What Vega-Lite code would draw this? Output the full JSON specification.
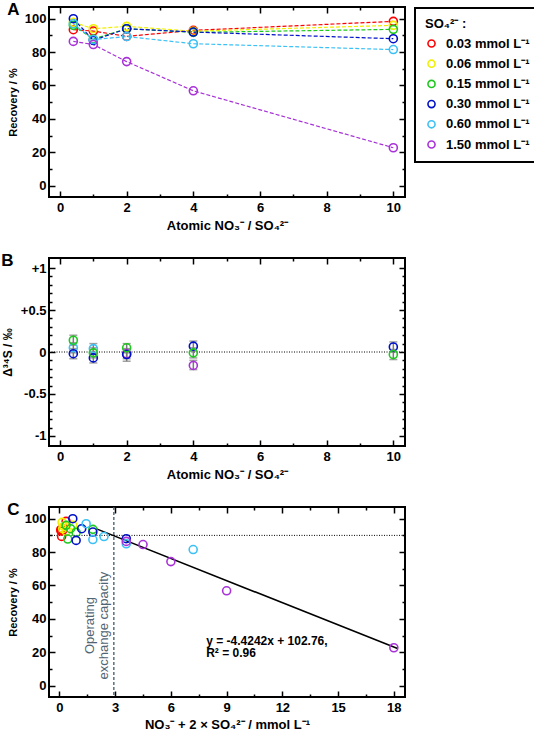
{
  "$schema": "https://vega.github.io/schema/vega-lite/v6.json",
  "background": "white",
  "padding": {"left": 0, "top": 0, "right": 2, "bottom": 0},
  "spacing": 18,
  "datasets": {
    "rec": [
      {"ratio": 0.4, "total": 0.072, "rec": 93.4, "conc": "0.03 mmol L⁻¹"},
      {"ratio": 1, "total": 0.09, "rec": 92.6, "conc": "0.03 mmol L⁻¹"},
      {"ratio": 2, "total": 0.12, "rec": 89.4, "conc": "0.03 mmol L⁻¹"},
      {"ratio": 4, "total": 0.18, "rec": 93.0, "conc": "0.03 mmol L⁻¹"},
      {"ratio": 10, "total": 0.36, "rec": 98.4, "conc": "0.03 mmol L⁻¹"},
      {"ratio": 0.4, "total": 0.144, "rec": 97.8, "conc": "0.06 mmol L⁻¹"},
      {"ratio": 1, "total": 0.18, "rec": 94.0, "conc": "0.06 mmol L⁻¹"},
      {"ratio": 2, "total": 0.24, "rec": 95.4, "conc": "0.06 mmol L⁻¹"},
      {"ratio": 4, "total": 0.36, "rec": 92.5, "conc": "0.06 mmol L⁻¹"},
      {"ratio": 10, "total": 0.72, "rec": 96.0, "conc": "0.06 mmol L⁻¹"},
      {"ratio": 0.4, "total": 0.36, "rec": 96.0, "conc": "0.15 mmol L⁻¹"},
      {"ratio": 1, "total": 0.45, "rec": 87.8, "conc": "0.15 mmol L⁻¹"},
      {"ratio": 2, "total": 0.6, "rec": 94.0, "conc": "0.15 mmol L⁻¹"},
      {"ratio": 4, "total": 0.9, "rec": 91.8, "conc": "0.15 mmol L⁻¹"},
      {"ratio": 10, "total": 1.8, "rec": 93.6, "conc": "0.15 mmol L⁻¹"},
      {"ratio": 0.4, "total": 0.72, "rec": 100.0, "conc": "0.30 mmol L⁻¹"},
      {"ratio": 1, "total": 0.9, "rec": 87.0, "conc": "0.30 mmol L⁻¹"},
      {"ratio": 2, "total": 1.2, "rec": 94.0, "conc": "0.30 mmol L⁻¹"},
      {"ratio": 4, "total": 1.8, "rec": 92.0, "conc": "0.30 mmol L⁻¹"},
      {"ratio": 10, "total": 3.6, "rec": 88.0, "conc": "0.30 mmol L⁻¹"},
      {"ratio": 0.4, "total": 1.44, "rec": 97.0, "conc": "0.60 mmol L⁻¹"},
      {"ratio": 1, "total": 1.8, "rec": 87.5, "conc": "0.60 mmol L⁻¹"},
      {"ratio": 2, "total": 2.4, "rec": 89.3, "conc": "0.60 mmol L⁻¹"},
      {"ratio": 4, "total": 3.6, "rec": 85.0, "conc": "0.60 mmol L⁻¹"},
      {"ratio": 10, "total": 7.2, "rec": 81.5, "conc": "0.60 mmol L⁻¹"},
      {"ratio": 0.4, "total": 3.6, "rec": 86.4, "conc": "1.50 mmol L⁻¹"},
      {"ratio": 1, "total": 4.5, "rec": 84.5, "conc": "1.50 mmol L⁻¹"},
      {"ratio": 2, "total": 6.0, "rec": 74.3, "conc": "1.50 mmol L⁻¹"},
      {"ratio": 4, "total": 9.0, "rec": 56.8, "conc": "1.50 mmol L⁻¹"},
      {"ratio": 10, "total": 18.0, "rec": 22.7, "conc": "1.50 mmol L⁻¹"}
    ],
    "iso": [
      {"ratio": 0.4, "d": 0.05, "lo": -0.01, "hi": 0.11, "conc": "0.60 mmol L⁻¹"},
      {"ratio": 0.4, "d": -0.02, "lo": -0.08, "hi": 0.04, "conc": "0.30 mmol L⁻¹"},
      {"ratio": 0.4, "d": 0.14, "lo": 0.08, "hi": 0.2, "conc": "0.15 mmol L⁻¹"},
      {"ratio": 1, "d": 0.04, "lo": -0.02, "hi": 0.1, "conc": "0.60 mmol L⁻¹"},
      {"ratio": 1, "d": -0.07, "lo": -0.13, "hi": -0.01, "conc": "0.30 mmol L⁻¹"},
      {"ratio": 1, "d": -0.01, "lo": -0.07, "hi": 0.05, "conc": "0.15 mmol L⁻¹"},
      {"ratio": 2, "d": -0.02, "lo": -0.08, "hi": 0.04, "conc": "1.50 mmol L⁻¹"},
      {"ratio": 2, "d": -0.03, "lo": -0.11, "hi": 0.03, "conc": "0.30 mmol L⁻¹"},
      {"ratio": 2, "d": 0.05, "lo": -0.01, "hi": 0.1, "conc": "0.15 mmol L⁻¹"},
      {"ratio": 4, "d": -0.16, "lo": -0.21, "hi": -0.1, "conc": "1.50 mmol L⁻¹"},
      {"ratio": 4, "d": 0.07, "lo": 0.01, "hi": 0.13, "conc": "0.30 mmol L⁻¹"},
      {"ratio": 4, "d": -0.01, "lo": -0.07, "hi": 0.05, "conc": "0.15 mmol L⁻¹"},
      {"ratio": 10, "d": 0.06, "lo": 0.0, "hi": 0.12, "conc": "0.30 mmol L⁻¹"},
      {"ratio": 10, "d": -0.03, "lo": -0.09, "hi": 0.03, "conc": "0.15 mmol L⁻¹"}
    ],
    "fit": [
      {"total": 2.0, "rec": 93.9},
      {"total": 18.2, "rec": 22.2}
    ]
  },
  "config": {
    "font": "Liberation Sans",
    "view": {"stroke": "black", "strokeWidth": 2},
    "axis": {
      "domain": false, "grid": false,
      "labelFont": "Liberation Sans", "labelFontWeight": "bold", "labelFontSize": 13, "labelColor": "black",
      "titleFont": "Liberation Sans", "titleFontWeight": "bold", "titleFontSize": 13, "titleColor": "black",
      "tickColor": "black", "tickWidth": 1.5, "labelOverlap": false, "labelFlush": false
    },
    "legend": {
      "strokeColor": "black", "strokeWidth": 2, "padding": 10, "titleFont": "Liberation Sans", "titleFontSize": 13, "titleFontWeight": "bold", "titleColor": "black",
      "labelFont": "Liberation Sans", "labelFontSize": 13, "labelFontWeight": "bold", "labelColor": "black",
      "symbolStrokeWidth": 1.6, "symbolSize": 50, "rowPadding": 5.2, "titlePadding": 6, "labelOffset": 8
    }
  },
  "resolve": {"scale": {"color": "independent"}, "legend": {"color": "independent"}},
  "vconcat": [
    {
      "width": 356, "height": 190,
      "title": {"text": "A", "anchor": "start", "frame": "bounds", "fontSize": 17, "fontWeight": "bold", "color": "black", "offset": -13},
      "data": {"name": "rec"},
      "resolve": {"axis": {"x": "independent", "y": "independent"}},
      "layer": [
        {
          "mark": {"type": "line", "strokeDash": [4, 2], "strokeWidth": 1.2},
          "encoding": {
            "x": {"field": "ratio", "type": "quantitative", "scale": {"domain": [-0.33, 10.35], "nice": false, "zero": false},
              "axis": {"title": "Atomic NO₃⁻ / SO₄²⁻", "values": [0,1,2,3,4,5,6,7,8,9,10], "labelExpr": "datum.value % 2 === 0 ? datum.label : ''",
                "tickSize": {"condition": {"test": "datum.value % 2 !== 0", "value": -3}, "value": -6}, "labelPadding": 10, "titlePadding": 2}},
            "y": {"field": "rec", "type": "quantitative", "scale": {"domain": [-6.8, 107], "nice": false, "zero": false},
              "axis": {"title": "Recovery / %", "titleFontSize": 11, "values": [0,10,20,30,40,50,60,70,80,90,100], "labelExpr": "datum.value % 20 === 0 ? datum.label : ''",
                "tickSize": {"condition": {"test": "datum.value % 20 !== 0", "value": -3}, "value": -6}, "labelPadding": 9, "titlePadding": 6}},
            "color": {"field": "conc", "type": "nominal",
              "scale": {"domain": ["0.03 mmol L⁻¹", "0.06 mmol L⁻¹", "0.15 mmol L⁻¹", "0.30 mmol L⁻¹", "0.60 mmol L⁻¹", "1.50 mmol L⁻¹"],
                "range": ["#ff0000", "#f0f000", "#1ec81e", "#0010c8", "#3cc0f5", "#a832d8"]},
              "legend": {"title": "SO₄²⁻ :", "orient": "none", "legendX": 366, "legendY": 1, "symbolType": "circle"}}
          }
        },
        {
          "mark": {"type": "point", "shape": "circle", "filled": false, "size": 64, "strokeWidth": 1.6, "opacity": 1},
          "encoding": {
            "x": {"field": "ratio", "type": "quantitative", "axis": null},
            "y": {"field": "rec", "type": "quantitative", "axis": null},
            "color": {"field": "conc", "type": "nominal"}
          }
        },
        {
          "mark": {"type": "point", "opacity": 0},
          "encoding": {
            "x": {"field": "ratio", "type": "quantitative",
              "axis": {"orient": "top", "labels": false, "title": null, "values": [0,1,2,3,4,5,6,7,8,9,10],
                "tickSize": {"condition": {"test": "datum.value % 2 !== 0", "value": -3}, "value": -6}}},
            "y": {"field": "rec", "type": "quantitative",
              "axis": {"orient": "right", "labels": false, "title": null, "values": [0,10,20,30,40,50,60,70,80,90,100],
                "tickSize": {"condition": {"test": "datum.value % 20 !== 0", "value": -3}, "value": -6}}}
          }
        }
      ]
    },
    {
      "width": 356, "height": 188,
      "title": {"text": "B", "anchor": "start", "frame": "bounds", "fontSize": 17, "fontWeight": "bold", "color": "black", "offset": -13},
      "data": {"name": "iso"},
      "resolve": {"axis": {"x": "independent", "y": "independent"}},
      "layer": [
        {
          "data": {"values": [{}]},
          "mark": {"type": "rule", "color": "black", "strokeDash": [1, 1.5], "strokeWidth": 1},
          "encoding": {"y": {"datum": 0, "type": "quantitative", "axis": null}}
        },
        {
          "mark": {"type": "errorbar", "color": "#7a7a7a", "thickness": 1.5, "ticks": {"size": 8, "color": "#7a7a7a", "thickness": 1.5}},
          "encoding": {
            "x": {"field": "ratio", "type": "quantitative", "scale": {"domain": [-0.33, 10.35], "nice": false, "zero": false},
              "axis": {"title": "Atomic NO₃⁻ / SO₄²⁻", "values": [0,1,2,3,4,5,6,7,8,9,10], "labelExpr": "datum.value % 2 === 0 ? datum.label : ''",
                "tickSize": {"condition": {"test": "datum.value % 2 !== 0", "value": -3}, "value": -6}, "labelPadding": 10, "titlePadding": 2}},
            "y": {"field": "lo", "type": "quantitative", "scale": {"domain": [-1.12, 1.12], "nice": false, "zero": false},
              "axis": {"title": "Δ³⁴S / ‰", "titleFontSize": 12,
                "values": [-1,-0.9,-0.8,-0.7,-0.6,-0.5,-0.4,-0.3,-0.2,-0.1,0,0.1,0.2,0.3,0.4,0.5,0.6,0.7,0.8,0.9,1],
                "labelExpr": "datum.value === 1 ? '+1' : datum.value === 0.5 ? '+0.5' : datum.value === 0 ? '0' : datum.value === -0.5 ? '-0.5' : datum.value === -1 ? '-1' : ''",
                "tickSize": {"condition": {"test": "abs(datum.value * 2 - round(datum.value * 2)) > 0.01", "value": -3}, "value": -6}, "labelPadding": 9, "titlePadding": 6}},
            "y2": {"field": "hi"}
          }
        },
        {
          "mark": {"type": "point", "shape": "circle", "filled": false, "size": 64, "strokeWidth": 1.6, "opacity": 1},
          "encoding": {
            "x": {"field": "ratio", "type": "quantitative", "axis": null},
            "y": {"field": "d", "type": "quantitative", "axis": null},
            "color": {"field": "conc", "type": "nominal",
              "scale": {"domain": ["0.03 mmol L⁻¹", "0.06 mmol L⁻¹", "0.15 mmol L⁻¹", "0.30 mmol L⁻¹", "0.60 mmol L⁻¹", "1.50 mmol L⁻¹"],
                "range": ["#ff0000", "#f0f000", "#1ec81e", "#0010c8", "#3cc0f5", "#a832d8"]}, "legend": null}
          }
        },
        {
          "mark": {"type": "point", "opacity": 0},
          "encoding": {
            "x": {"field": "ratio", "type": "quantitative",
              "axis": {"orient": "top", "labels": false, "title": null, "values": [0,1,2,3,4,5,6,7,8,9,10],
                "tickSize": {"condition": {"test": "datum.value % 2 !== 0", "value": -3}, "value": -6}}},
            "y": {"field": "d", "type": "quantitative",
              "axis": {"orient": "right", "labels": false, "title": null,
                "values": [-1,-0.9,-0.8,-0.7,-0.6,-0.5,-0.4,-0.3,-0.2,-0.1,0,0.1,0.2,0.3,0.4,0.5,0.6,0.7,0.8,0.9,1],
                "tickSize": {"condition": {"test": "abs(datum.value * 2 - round(datum.value * 2)) > 0.01", "value": -3}, "value": -6}}}
          }
        }
      ]
    },
    {
      "width": 356, "height": 190,
      "title": {"text": "C", "anchor": "start", "frame": "bounds", "fontSize": 17, "fontWeight": "bold", "color": "black", "offset": -13},
      "data": {"name": "rec"},
      "resolve": {"axis": {"x": "independent", "y": "independent"}},
      "layer": [
        {
          "data": {"values": [{}]},
          "mark": {"type": "rule", "color": "black", "strokeDash": [1, 1.5], "strokeWidth": 1},
          "encoding": {"y": {"datum": 90, "type": "quantitative", "axis": null}}
        },
        {
          "data": {"values": [{}]},
          "mark": {"type": "rule", "color": "#3f5a68", "strokeDash": [3, 2], "strokeWidth": 1.3},
          "encoding": {"x": {"datum": 2.93, "type": "quantitative", "axis": null}}
        },
        {
          "data": {"name": "fit"},
          "mark": {"type": "line", "color": "black", "strokeWidth": 1.6},
          "encoding": {
            "x": {"field": "total", "type": "quantitative", "axis": null},
            "y": {"field": "rec", "type": "quantitative", "axis": null}
          }
        },
        {
          "mark": {"type": "point", "shape": "circle", "filled": false, "size": 64, "strokeWidth": 1.6, "opacity": 1},
          "encoding": {
            "x": {"field": "total", "type": "quantitative", "scale": {"domain": [-0.56, 18.6], "nice": false, "zero": false},
              "axis": {"title": "NO₃⁻ + 2 × SO₄²⁻ / mmol L⁻¹", "values": [0,1.5,3,4.5,6,7.5,9,10.5,12,13.5,15,16.5,18], "labelExpr": "datum.value % 3 === 0 ? datum.label : ''",
                "tickSize": {"condition": {"test": "datum.value % 3 !== 0", "value": -3}, "value": -6}, "labelPadding": 10, "titlePadding": 1}},
            "y": {"field": "rec", "type": "quantitative", "scale": {"domain": [-6.8, 107], "nice": false, "zero": false},
              "axis": {"title": "Recovery / %", "titleFontSize": 11, "values": [0,10,20,30,40,50,60,70,80,90,100], "labelExpr": "datum.value % 20 === 0 ? datum.label : ''",
                "tickSize": {"condition": {"test": "datum.value % 20 !== 0", "value": -3}, "value": -6}, "labelPadding": 9, "titlePadding": 6}},
            "color": {"field": "conc", "type": "nominal",
              "scale": {"domain": ["0.03 mmol L⁻¹", "0.06 mmol L⁻¹", "0.15 mmol L⁻¹", "0.30 mmol L⁻¹", "0.60 mmol L⁻¹", "1.50 mmol L⁻¹"],
                "range": ["#ff0000", "#f0f000", "#1ec81e", "#0010c8", "#3cc0f5", "#a832d8"]}, "legend": null}
          }
        },
        {
          "data": {"values": [{}]},
          "mark": {"type": "text", "text": ["Operating", "exchange capacity"], "angle": 270, "align": "center", "baseline": "middle", "fontSize": 13, "lineHeight": 14, "color": "#4f6573", "font": "Liberation Sans"},
          "encoding": {
            "x": {"datum": 1.64, "type": "quantitative", "axis": null},
            "y": {"datum": 36, "type": "quantitative", "axis": null}
          }
        },
        {
          "data": {"values": [{}]},
          "mark": {"type": "text", "text": ["y = -4.4242x + 102.76,", "R² = 0.96"], "align": "left", "baseline": "middle", "fontSize": 12, "lineHeight": 12.5, "fontWeight": "bold", "color": "black", "font": "Liberation Sans"},
          "encoding": {
            "x": {"datum": 7.9, "type": "quantitative", "axis": null},
            "y": {"datum": 27, "type": "quantitative", "axis": null}
          }
        },
        {
          "mark": {"type": "point", "opacity": 0},
          "encoding": {
            "x": {"field": "total", "type": "quantitative",
              "axis": {"orient": "top", "labels": false, "title": null, "values": [0,1.5,3,4.5,6,7.5,9,10.5,12,13.5,15,16.5,18],
                "tickSize": {"condition": {"test": "datum.value % 3 !== 0", "value": -3}, "value": -6}}},
            "y": {"field": "rec", "type": "quantitative",
              "axis": {"orient": "right", "labels": false, "title": null, "values": [0,10,20,30,40,50,60,70,80,90,100],
                "tickSize": {"condition": {"test": "datum.value % 20 !== 0", "value": -3}, "value": -6}}}
          }
        }
      ]
    }
  ]
}
